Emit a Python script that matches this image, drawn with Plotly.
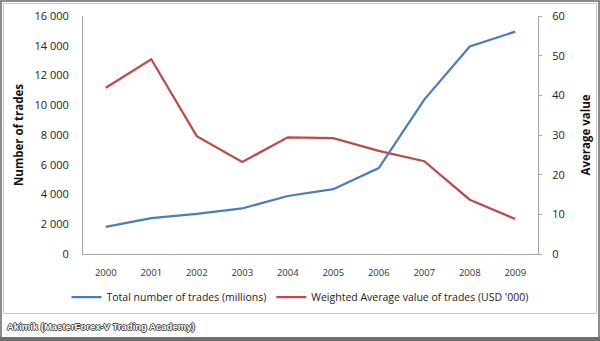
import plotly.graph_objects as go

years = ["2000", "2001", "2002", "2003", "2004", "2005", "2006", "2007", "2008", "2009"]
total_trades = [1820, 2410, 2690, 3060, 3900, 4360, 5780, 10380, 13950, 14950]
avg_value = [41.9, 49.1, 29.7, 23.2, 29.4, 29.2, 26.0, 23.4, 13.7, 8.8]

left_ticks = [0, 2000, 4000, 6000, 8000, 10000, 12000, 14000, 16000]
left_labels = ["0", "2 000", "4 000", "6 000", "8 000", "10 000", "12 000", "14 000", "16 000"]
right_ticks = [0, 10, 20, 30, 40, 50, 60]

W, H = 600, 341
BLUE = "#4A7EBB"
RED = "#BE4B48"
FONT = "Open Sans"

def px(x):
    return x / W

def py(y):
    return 1 - y / H

fig = go.Figure()
fig.add_trace(go.Scatter(x=years, y=total_trades, mode="lines", name="Total number of trades (millions)",
                         line=dict(color=BLUE, width=2.25), yaxis="y"))
fig.add_trace(go.Scatter(x=years, y=avg_value, mode="lines", name="Weighted Average value of trades (USD '000)",
                         line=dict(color=RED, width=2.25), yaxis="y2"))

fig.update_layout(
    width=W, height=H,
    margin=dict(l=0, r=0, t=0, b=0),
    paper_bgcolor="white", plot_bgcolor="white",
    font=dict(family=FONT, color="#222", size=11),
    showlegend=True,
    legend=dict(orientation="h", x=0.5, xanchor="center", y=py(297), yanchor="middle",
                font=dict(size=10.5, family=FONT, color="#222"), itemwidth=30,
                tracegroupgap=0, bgcolor="rgba(0,0,0,0)"),
    xaxis=dict(domain=[px(83), px(538)], type="category", range=[-0.5, 9.5], showgrid=False,
               showline=True, linecolor="#A6A6A6", linewidth=1, ticks="",
               tickfont=dict(size=9.5, color="#333"), ticklabelstandoff=10, anchor="y"),
    yaxis=dict(domain=[py(254), py(16)], range=[0, 16000], tickvals=left_ticks, ticktext=left_labels,
               showgrid=False, zeroline=False, showline=True, linecolor="#A6A6A6", linewidth=1,
               ticks="", tickfont=dict(size=11, color="#222"), ticklabelstandoff=11,
               title=dict(text="<b>Number of trades</b>", font=dict(size=11.5, color="#111"), standoff=8),
               automargin=False),
    yaxis2=dict(overlaying="y", side="right", range=[0, 60], tickvals=right_ticks,
                showgrid=False, zeroline=False, showline=True, linecolor="#A6A6A6", linewidth=1,
                ticks="outside", ticklen=3, tickcolor="#A6A6A6",
                tickfont=dict(size=11, color="#222"), ticklabelstandoff=8,
                title=dict(text="<b>Average value</b>", font=dict(size=11.5, color="#111"), standoff=18),
                automargin=False, anchor="x"),
)

shapes = [
    dict(type="rect", xref="paper", yref="paper", x0=px(1), x1=px(599), y0=py(340), y1=py(1),
         line=dict(color="#8C8C8C", width=2), fillcolor="rgba(0,0,0,0)", layer="above"),
    dict(type="rect", xref="paper", yref="paper", x0=px(3.5), x1=px(596.5), y0=py(313.5), y1=py(3.5),
         line=dict(color="#C8C8C8", width=1), fillcolor="rgba(0,0,0,0)", layer="above"),
    dict(type="rect", xref="paper", yref="paper", x0=0, x1=1, y0=0, y1=py(337),
         line=dict(width=0), fillcolor="#6E6E6E", layer="above"),
]
fig.update_layout(shapes=shapes)

fig.add_annotation(xref="paper", yref="paper", x=px(5), y=py(326), xanchor="left", yanchor="middle",
                   text="<b>Akimik (MasterForex-V Trading Academy)</b>", showarrow=False,
                   font=dict(size=9.5, family="Liberation Sans", color="white",
                             shadow="-1px 0 #444, 1px 0 #444, 0 -1px #444, 0 1px #444"))

fig.write_html("out.html")
